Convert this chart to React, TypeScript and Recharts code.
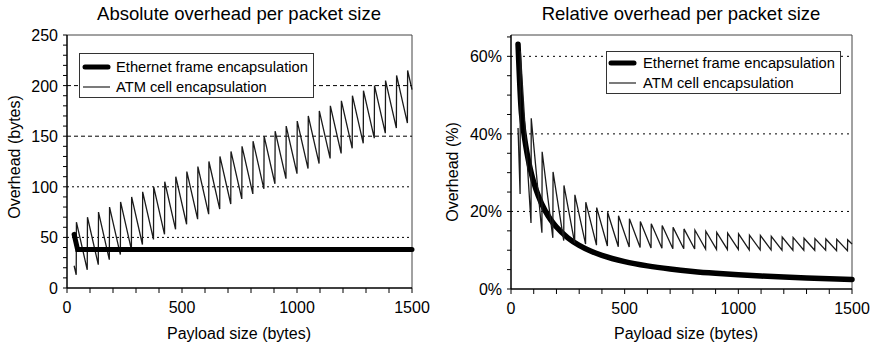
import React from 'react';
import { LineChart, Line, XAxis, YAxis, ReferenceLine } from 'recharts';

const FONT = '"Liberation Sans", Arial, Helvetica, sans-serif';

// Payload sizes (bytes) at the sawtooth vertices of ATM cell encapsulation
const atmX = [31, 40, 41, 88, 89, 136, 137, 184, 185, 232, 233, 280, 281, 328, 329, 376, 377, 424, 425, 472, 473, 520, 521, 568, 569, 616, 617, 664, 665, 712, 713, 760, 761, 808, 809, 856, 857, 904, 905, 952, 953, 1000, 1001, 1048, 1049, 1096, 1097, 1144, 1145, 1192, 1193, 1240, 1241, 1288, 1289, 1336, 1337, 1384, 1385, 1432, 1433, 1480, 1481, 1500];
// Absolute ATM overhead (bytes)
const atmAbs = [22, 13, 65, 18, 70, 23, 75, 28, 80, 33, 85, 38, 90, 43, 95, 48, 100, 53, 105, 58, 110, 63, 115, 68, 120, 73, 125, 78, 130, 83, 135, 88, 140, 93, 145, 98, 150, 103, 155, 108, 160, 113, 165, 118, 170, 123, 175, 128, 180, 133, 185, 138, 190, 143, 195, 148, 200, 153, 205, 158, 210, 163, 215, 196];
// Relative ATM overhead (%)
const atmRel = [41.5, 24.5, 61.3, 17.0, 44.0, 14.5, 35.4, 13.2, 30.2, 12.5, 26.7, 11.9, 24.3, 11.6, 22.4, 11.3, 21.0, 11.1, 19.8, 10.9, 18.9, 10.8, 18.1, 10.7, 17.4, 10.6, 16.8, 10.5, 16.4, 10.4, 15.9, 10.4, 15.5, 10.3, 15.2, 10.3, 14.9, 10.2, 14.6, 10.2, 14.4, 10.2, 14.2, 10.1, 13.9, 10.1, 13.8, 10.1, 13.6, 10.0, 13.4, 10.0, 13.3, 10.0, 13.1, 10.0, 13.0, 10.0, 12.9, 9.9, 12.8, 9.9, 12.7, 11.6];

// Ethernet absolute overhead (bytes)
const ethAbsX = [31, 46, 1500];
const ethAbs = [53, 38, 38];
// Ethernet relative overhead (%)
const ethRelX = [31, 46, 50, 55, 60, 65, 70, 80, 90, 100, 120, 150, 175, 200, 250, 300, 350, 400, 500, 600, 700, 800, 900, 1000, 1100, 1200, 1300, 1400, 1500];
const ethRel = [63.1, 45.24, 43.18, 40.86, 38.78, 36.89, 35.19, 32.2, 29.69, 27.54, 24.05, 20.21, 17.84, 15.97, 13.19, 11.24, 9.79, 8.68, 7.06, 5.96, 5.15, 4.53, 4.05, 3.66, 3.34, 3.07, 2.84, 2.64, 2.47];

const xTicks = [0, 100, 200, 300, 400, 500, 600, 700, 800, 900, 1000, 1100, 1200, 1300, 1400, 1500];
const xLabels = [0, 500, 1000, 1500];
const absTicks = [0, 10, 20, 30, 40, 50, 60, 70, 80, 90, 100, 110, 120, 130, 140, 150, 160, 170, 180, 190, 200, 210, 220, 230, 240, 250];
const absLabels = [0, 50, 100, 150, 200, 250];
const absGridDashed = [150, 200];
const absGridDotted = [50, 100];
const relTicks = [0, 5, 10, 15, 20, 25, 30, 35, 40, 45, 50, 55, 60, 65];
const relLabels = [0, 20, 40, 60];
const relGrid = [20, 40, 60];

const seriesNames = ['Ethernet frame encapsulation', 'ATM cell encapsulation'];

const toPts = (xs: number[], ys: number[]) => xs.map((x, i) => ({ x, y: ys[i] }));

const atmAbsData = toPts(atmX, atmAbs);
const atmRelData = toPts(atmX, atmRel);
const ethAbsData = toPts(ethAbsX, ethAbs);
const ethRelData = toPts(ethRelX, ethRel);

const XTick = (props: any) => {
  const { x, y, payload } = props;
  if (!xLabels.includes(payload.value)) return <g />;
  return (
    <text x={x} y={y + 18} textAnchor="middle" fontSize={16} fill="#000" fontFamily={FONT}>
      {payload.value}
    </text>
  );
};

const makeYTick = (labels: number[], suffix: string) => (props: any) => {
  const { x, y, payload } = props;
  if (!labels.includes(payload.value)) return <g />;
  return (
    <text x={x - 3} y={y + 6} textAnchor="end" fontSize={16} fill="#000" fontFamily={FONT}>
      {payload.value + suffix}
    </text>
  );
};

const AbsYTick = makeYTick(absLabels, '');
const RelYTick = makeYTick(relLabels, '%');

const Legend = ({ left, top, width, height, lineX, textX, row1, row2 }: any) => (
  <div
    style={{
      position: 'absolute', left, top, width, height, boxSizing: 'border-box',
      border: '1px solid #333', background: '#fff',
    }}
  >
    <svg width={width} height={height} style={{ position: 'absolute', left: -1, top: -1 }}>
      <line x1={lineX + 2} x2={lineX + 25} y1={row1} y2={row1} stroke="#000" strokeWidth={5} strokeLinecap="round" />
      <line x1={lineX} x2={lineX + 27} y1={row2} y2={row2} stroke="#222" strokeWidth={1.2} />
      <text x={textX} y={row1 + 5} fontSize={14.7} fontFamily={FONT} fill="#000">{seriesNames[0]}</text>
      <text x={textX} y={row2 + 5} fontSize={14.7} fontFamily={FONT} fill="#000">{seriesNames[1]}</text>
    </svg>
  </div>
);

const textStyle: React.CSSProperties = {
  position: 'absolute', fontFamily: FONT, color: '#000', whiteSpace: 'nowrap', lineHeight: 1,
};

export default function App() {
  return (
    <div style={{ position: 'absolute', left: 0, top: 0, width: 871, height: 348, background: '#fff', overflow: 'hidden' }}>
      {/* Left chart */}
      <div style={{ position: 'absolute', left: 0, top: 0 }}>
        <LineChart width={435} height={348} margin={{ top: 35, right: 23, bottom: 30, left: 7 }}>
          <XAxis
            dataKey="x" type="number" domain={[0, 1500]} ticks={xTicks} interval={0}
            allowDuplicatedCategory={false} height={30} tickSize={5}
            axisLine={{ stroke: '#000', strokeWidth: 1.5 }} tickLine={{ stroke: '#000' }} tick={XTick}
          />
          <YAxis
            type="number" domain={[0, 250]} ticks={absTicks} interval={0} width={60} tickSize={4}
            axisLine={{ stroke: '#000', strokeWidth: 1.5 }} tickLine={{ stroke: '#000' }} tick={AbsYTick}
          />
          <ReferenceLine y={250} stroke="#444" strokeWidth={1} />
          <ReferenceLine x={1500} stroke="#444" strokeWidth={1} />
          {absGridDashed.map((v) => (
            <ReferenceLine key={'d' + v} y={v} stroke="#000" strokeWidth={1} strokeDasharray="4 3" />
          ))}
          {absGridDotted.map((v) => (
            <ReferenceLine key={'o' + v} y={v} stroke="#000" strokeWidth={1} strokeDasharray="2 3" />
          ))}
          <Line data={atmAbsData} dataKey="y" type="linear" stroke="#1a1a1a" strokeWidth={1.3} dot={false} isAnimationActive={false} />
          <Line data={ethAbsData} dataKey="y" type="linear" stroke="#000" strokeWidth={5} strokeLinecap="round" dot={false} isAnimationActive={false} />
        </LineChart>
      </div>
      {/* Right chart */}
      <div style={{ position: 'absolute', left: 436, top: 0 }}>
        <LineChart width={435} height={348} margin={{ top: 35, right: 19, bottom: 29, left: 15 }}>
          <XAxis
            dataKey="x" type="number" domain={[0, 1500]} ticks={xTicks} interval={0}
            allowDuplicatedCategory={false} height={30} tickSize={5}
            axisLine={{ stroke: '#000', strokeWidth: 1.5 }} tickLine={{ stroke: '#000' }} tick={XTick}
          />
          <YAxis
            type="number" domain={[0, 65.5]} ticks={relTicks} interval={0} width={60} tickSize={4}
            allowDataOverflow
            axisLine={{ stroke: '#000', strokeWidth: 1.5 }} tickLine={{ stroke: '#000' }} tick={RelYTick}
          />
          <ReferenceLine y={65.5} stroke="#444" strokeWidth={1} />
          <ReferenceLine x={1500} stroke="#444" strokeWidth={1} />
          {relGrid.map((v) => (
            <ReferenceLine key={'g' + v} y={v} stroke="#000" strokeWidth={1} strokeDasharray="2 4" />
          ))}
          <Line data={ethRelData} dataKey="y" type="monotoneX" stroke="#000" strokeWidth={5.5} strokeLinecap="round" dot={false} isAnimationActive={false} />
          <Line data={atmRelData} dataKey="y" type="linear" stroke="#1a1a1a" strokeWidth={1.3} dot={false} isAnimationActive={false} />
        </LineChart>
      </div>

      {/* Titles */}
      <div style={{ ...textStyle, left: 239, top: 5, fontSize: 18.5, transform: 'translateX(-50%)' }}>
        Absolute overhead per packet size
      </div>
      <div style={{ ...textStyle, left: 681, top: 5, fontSize: 18.5, transform: 'translateX(-50%)' }}>
        Relative overhead per packet size
      </div>

      {/* X axis labels */}
      <div style={{ ...textStyle, left: 239, top: 326, fontSize: 16, transform: 'translateX(-50%)' }}>
        Payload size (bytes)
      </div>
      <div style={{ ...textStyle, left: 686, top: 326, fontSize: 16, transform: 'translateX(-50%)' }}>
        Payload size (bytes)
      </div>

      {/* Y axis labels */}
      <div style={{ ...textStyle, left: 15, top: 157, fontSize: 16, transform: 'translate(-50%, -50%) rotate(-90deg)' }}>
        Overhead (bytes)
      </div>
      <div style={{ ...textStyle, left: 453, top: 172, fontSize: 16, transform: 'translate(-50%, -50%) rotate(-90deg)' }}>
        Overhead (%)
      </div>

      {/* Legends */}
      <Legend left={79} top={53} width={235} height={45} lineX={4} textX={37} row1={14} row2={34} />
      <Legend left={606} top={51} width={235} height={43} lineX={3} textX={37} row1={12} row2={32} />
    </div>
  );
}
